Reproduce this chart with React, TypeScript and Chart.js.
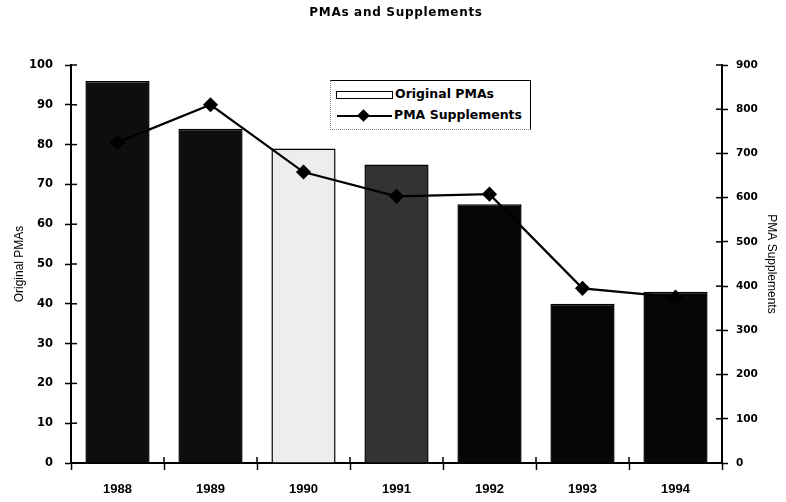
import React, { useEffect, useRef } from "react";
import { Chart, registerables } from "chart.js";

Chart.register(...registerables);

const categories = ["1988", "1989", "1990", "1991", "1992", "1993", "1994"];
const originalPMAs = [96, 84, 79, 75, 65, 40, 43];
const pmaSupplements = [725, 810, 658, 603, 608, 395, 375];
const leftTicks = [0, 10, 20, 30, 40, 50, 60, 70, 80, 90, 100];
const rightTicks = [0, 100, 200, 300, 400, 500, 600, 700, 800, 900];

const barColors = ["#0e0e0e", "#0e0e0e", "#ededed", "#333333", "#060606", "#060606", "#060606"];

const W = 786;
const H = 502;

const innerTicks = {
  id: "innerTicks",
  afterDraw(chart: any) {
    const ctx = chart.ctx;
    const { left, right, bottom } = chart.chartArea;
    ctx.save();
    ctx.strokeStyle = "#000";
    ctx.lineWidth = 1.5;
    const y = chart.scales.y;
    const y1 = chart.scales.y1;
    const x = chart.scales.x;
    leftTicks.forEach((v) => {
      const p = y.getPixelForValue(v);
      ctx.beginPath();
      ctx.moveTo(left, p);
      ctx.lineTo(left + 6, p);
      ctx.stroke();
    });
    rightTicks.forEach((v) => {
      const p = y1.getPixelForValue(v);
      ctx.beginPath();
      ctx.moveTo(right, p);
      ctx.lineTo(right - 6, p);
      ctx.stroke();
    });
    for (let i = 0; i <= categories.length; i++) {
      const p = x.getPixelForValue(i - 0.5);
      ctx.beginPath();
      ctx.moveTo(p, bottom);
      ctx.lineTo(p, bottom - 6);
      ctx.stroke();
    }
    ctx.restore();
  },
};

export default function App() {
  const ref = useRef<HTMLCanvasElement>(null);

  useEffect(() => {
    if (!ref.current) return;
    const chart = new Chart(ref.current, {
      type: "bar",
      data: {
        labels: categories,
        datasets: [
          {
            type: "line",
            label: "PMA Supplements",
            data: pmaSupplements,
            yAxisID: "y1",
            borderColor: "#000",
            backgroundColor: "#000",
            borderWidth: 2.2,
            pointStyle: "rectRot",
            pointRadius: 6,
            pointBackgroundColor: "#000",
            pointBorderColor: "#000",
            tension: 0,
            order: 0,
          } as any,
          {
            type: "bar",
            label: "Original PMAs",
            data: originalPMAs,
            yAxisID: "y",
            backgroundColor: barColors,
            borderColor: "#000",
            borderWidth: 1.5,
            barPercentage: 0.69,
            categoryPercentage: 1,
            order: 1,
          },
        ],
      },
      options: {
        responsive: true,
        maintainAspectRatio: false,
        animation: false,
        layout: { padding: { top: 65, left: 0, right: 0, bottom: 0 } },
        plugins: {
          legend: { display: false },
          title: { display: false },
          tooltip: { enabled: false },
        },
        scales: {
          x: {
            grid: {
              display: true,
              drawOnChartArea: false,
              offset: true,
              tickLength: 7,
              tickWidth: 1.5,
              tickColor: "#000",
            },
            border: { display: true, color: "#000", width: 2 },
            ticks: {
              color: "#000",
              padding: 12,
              font: { family: "'Liberation Sans', Arial, sans-serif", size: 13, weight: "bold" },
            },
            afterFit: (s: any) => {
              s.height = 39;
            },
          },
          y: {
            position: "left",
            min: 0,
            max: 100,
            afterBuildTicks: (s: any) => {
              s.ticks = leftTicks.map((v) => ({ value: v }));
            },
            grid: {
              drawOnChartArea: false,
              tickLength: 6,
              tickWidth: 1.5,
              tickColor: "#000",
            },
            border: { display: true, color: "#000", width: 2 },
            ticks: {
              color: "#000",
              padding: 12,
              font: { family: "'DejaVu Sans', sans-serif", size: 11.5, weight: "bold" },
            },
            title: {
              display: true,
              text: "Original PMAs",
              color: "#000",
              padding: { top: 12, bottom: 0 },
              font: { family: "'Liberation Sans', Arial, sans-serif", size: 12, weight: "normal" },
            },
            afterFit: (s: any) => {
              s.width = 71;
            },
          },
          y1: {
            position: "right",
            min: 0,
            max: 900,
            afterBuildTicks: (s: any) => {
              s.ticks = rightTicks.map((v) => ({ value: v }));
            },
            grid: {
              drawOnChartArea: false,
              tickLength: 6,
              tickWidth: 1.5,
              tickColor: "#000",
            },
            border: { display: true, color: "#000", width: 2 },
            ticks: {
              color: "#000",
              padding: 8,
              font: { family: "'DejaVu Sans', sans-serif", size: 10.5, weight: "bold" },
            },
            title: {
              display: true,
              text: "PMA Supplements",
              color: "#000",
              padding: { top: 7, bottom: 0 },
              font: { family: "'Liberation Sans', Arial, sans-serif", size: 12, weight: "normal" },
            },
            afterFit: (s: any) => {
              s.width = 64;
            },
          },
        },
      },
      plugins: [innerTicks],
    });
    return () => chart.destroy();
  }, []);

  const legendFont = "bold 12.5px 'DejaVu Sans', sans-serif";

  return (
    <div style={{ position: "fixed", left: 0, top: 0, width: W, height: H, background: "#fff" }}>
      <canvas ref={ref} width={W} height={H} style={{ position: "absolute", left: 0, top: 0 }} />
      <div
        style={{
          position: "absolute",
          left: 0,
          width: W,
          top: 5,
          textAlign: "center",
          paddingLeft: 6,
          boxSizing: "border-box",
          font: "bold 12px 'DejaVu Sans', sans-serif",
          letterSpacing: "0.7px",
          color: "#000",
        }}
      >
        PMAs and Supplements
      </div>
      <div
        style={{
          position: "absolute",
          left: 330,
          top: 80,
          width: 201,
          height: 50,
          borderTop: "1.5px solid #000",
          borderRight: "1.5px solid #000",
          borderLeft: "1px dotted #888",
          borderBottom: "1px dotted #888",
          background: "#fff",
          boxSizing: "border-box",
        }}
      >
        <div
          style={{
            position: "absolute",
            left: 5,
            top: 10,
            width: 57,
            height: 8,
            border: "1.5px solid #000",
            background: "#fff",
            boxSizing: "border-box",
          }}
        />
        <div
          style={{
            position: "absolute",
            left: 64,
            top: 5,
            font: legendFont,
            color: "#000",
            whiteSpace: "nowrap",
          }}
        >
          Original PMAs
        </div>
        <div
          style={{
            position: "absolute",
            left: 6,
            top: 34,
            width: 55,
            height: 2,
            background: "#000",
          }}
        />
        <div
          style={{
            position: "absolute",
            left: 28,
            top: 30,
            width: 9,
            height: 9,
            background: "#000",
            transform: "rotate(45deg)",
          }}
        />
        <div
          style={{
            position: "absolute",
            left: 63,
            top: 26,
            font: legendFont,
            color: "#000",
            whiteSpace: "nowrap",
          }}
        >
          PMA Supplements
        </div>
      </div>
    </div>
  );
}
